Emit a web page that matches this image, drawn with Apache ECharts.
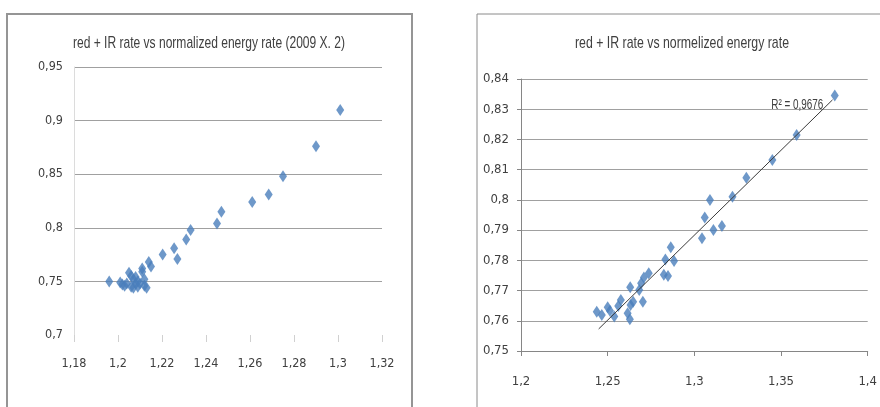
<!DOCTYPE html>
<html><head><meta charset="utf-8">
<script src="https://cdn.jsdelivr.net/npm/echarts@6/dist/echarts.min.js"></script>
<style>html,body{margin:0;padding:0;background:#fff}#c{width:880px;height:407px}</style>
</head><body><div id="c"></div>
<script>
// ---- data ----
const leftTitle = 'red + IR rate vs normalized energy rate (2009 X. 2)';
const rightTitle = 'red + IR rate vs normelized energy rate';
const leftX = [1.196,1.201,1.202,1.203,1.204,1.205,1.206,1.206,1.207,1.207,1.208,1.208,1.209,1.209,1.210,1.211,1.211,1.212,1.212,1.213,1.214,1.215,1.2203,1.2255,1.227,1.231,1.233,1.245,1.247,1.261,1.2685,1.275,1.290,1.301];
const leftY = [0.750,0.749,0.747,0.746,0.748,0.758,0.745,0.755,0.744,0.752,0.748,0.754,0.745,0.750,0.748,0.759,0.762,0.752,0.746,0.744,0.768,0.764,0.775,0.781,0.771,0.789,0.798,0.804,0.815,0.824,0.831,0.848,0.876,0.910];
const rightX = [1.381,1.359,1.345,1.330,1.322,1.309,1.306,1.311,1.3159,1.3044,1.2864,1.2833,1.2883,1.2824,1.2848,1.2737,1.2709,1.2693,1.2682,1.2703,1.2630,1.2647,1.2632,1.2615,1.2628,1.2576,1.2561,1.2538,1.2513,1.2500,1.2466,1.2437];
const rightY = [0.8345,0.8215,0.8132,0.8073,0.801,0.800,0.7942,0.790,0.7914,0.7873,0.7843,0.7803,0.7798,0.7752,0.7748,0.7757,0.7743,0.7724,0.7702,0.7663,0.7711,0.7663,0.7652,0.7625,0.7605,0.7669,0.7649,0.7614,0.7633,0.7645,0.7619,0.7630];
const trendX = [1.2448, 1.3797];
const trendY = [0.7573, 0.8331];
const rSquaredText = 'R² = 0,9676';
const leftXRange = [1.18, 1.32, 0.02];
const leftYRange = [0.7, 0.95, 0.05];
const rightXRange = [1.2, 1.4, 0.05];
const rightYRange = [0.75, 0.84, 0.01];

// ---- chart ----
const FONT = '"DejaVu Sans Condensed", "Liberation Sans", sans-serif';
const TFONT = 'Liberation Sans';
const BLUE = '#4a7ebb';
const TXT = '#404040';
const fmt = v => String(+(+v).toFixed(2)).replace('.', ',');
const zip = (a, b) => a.map((x, i) => [x, b[i]]);
const ctx = document.createElement('canvas').getContext('2d');
function fit(text, size, target) { ctx.font = size + 'px "' + TFONT + '"'; return target / ctx.measureText(text).width; }
function scaledText(id, text, x, y, size, target) {
  return {type: 'text', id: id, x: x, y: y, scaleX: fit(text, size, target), z: 10,
    style: {text: text, fontFamily: TFONT, fontSize: size, fill: TXT, align: 'center', verticalAlign: 'middle'}};
}

const chart = echarts.init(document.getElementById('c'), null, {renderer: 'canvas'});
chart.setOption({
  animation: false,
  backgroundColor: '#fff',
  graphic: [
    {type: 'rect', id: 'f1', shape: {x: 7, y: 14, width: 405, height: 410}, style: {fill: 'none', stroke: '#959595', lineWidth: 2}, z: -1},
    {type: 'rect', id: 'f2', shape: {x: 477, y: 14, width: 420, height: 410}, style: {fill: 'none', stroke: '#8a8a8a', lineWidth: 1}, z: -1},
    scaledText('t1', leftTitle, 209, 43, 17, 272),
    scaledText('t2', rightTitle, 682, 43, 17, 214)
  ],
  grid: [
    {left: 74, top: 67, width: 308, height: 268},
    {left: 521, top: 79, width: 348, height: 272}
  ],
  xAxis: [
    {type: 'value', gridIndex: 0, min: leftXRange[0], max: leftXRange[1], interval: leftXRange[2],
     axisLine: {show: false}, axisTick: {show: true, length: 7, lineStyle: {color: '#d0d0d0'}},
     splitLine: {show: false},
     axisLabel: {formatter: fmt, margin: 22, fontFamily: FONT, fontSize: 12.5, color: TXT}},
    {type: 'value', gridIndex: 1, min: rightXRange[0], max: rightXRange[1], interval: rightXRange[2],
     axisLine: {show: true, lineStyle: {color: '#868686'}}, axisTick: {show: true, length: 5, lineStyle: {color: '#868686'}},
     splitLine: {show: false},
     axisLabel: {formatter: fmt, margin: 24, fontFamily: FONT, fontSize: 13, color: TXT}}
  ],
  yAxis: [
    {type: 'value', gridIndex: 0, min: leftYRange[0], max: leftYRange[1], interval: leftYRange[2],
     axisLine: {show: true, lineStyle: {color: '#dcdcdc'}}, axisTick: {show: false},
     splitLine: {show: true, showMinLine: false, lineStyle: {color: '#a0a0a0', width: 1}},
     axisLabel: {formatter: fmt, margin: 11, fontFamily: FONT, fontSize: 12.5, color: TXT}},
    {type: 'value', gridIndex: 1, min: rightYRange[0], max: rightYRange[1], interval: rightYRange[2],
     axisLine: {show: true, lineStyle: {color: '#868686'}}, axisTick: {show: true, length: 4, lineStyle: {color: '#868686'}},
     splitLine: {show: true, showMinLine: false, lineStyle: {color: '#a0a0a0', width: 1}},
     axisLabel: {formatter: fmt, margin: 12, fontFamily: FONT, fontSize: 13, color: TXT}}
  ],
  series: [
    {type: 'scatter', xAxisIndex: 0, yAxisIndex: 0, symbol: 'diamond', symbolSize: [8, 12],
     itemStyle: {color: BLUE}, data: zip(leftX, leftY)},
    {type: 'line', xAxisIndex: 1, yAxisIndex: 1, data: zip(trendX, trendY), symbol: 'none',
     lineStyle: {color: '#3a3a3a', width: 1}, z: 3},
    {type: 'scatter', xAxisIndex: 1, yAxisIndex: 1, symbol: 'diamond', symbolSize: [8, 12],
     itemStyle: {color: BLUE}, data: zip(rightX, rightY), z: 2}
  ]
});
const rPos = chart.convertToPixel({xAxisIndex: 1, yAxisIndex: 1}, [1.3594, 0.8316]);
chart.setOption({graphic: [scaledText('r2', rSquaredText, rPos[0], rPos[1], 15, 52)]});
</script></body></html>
